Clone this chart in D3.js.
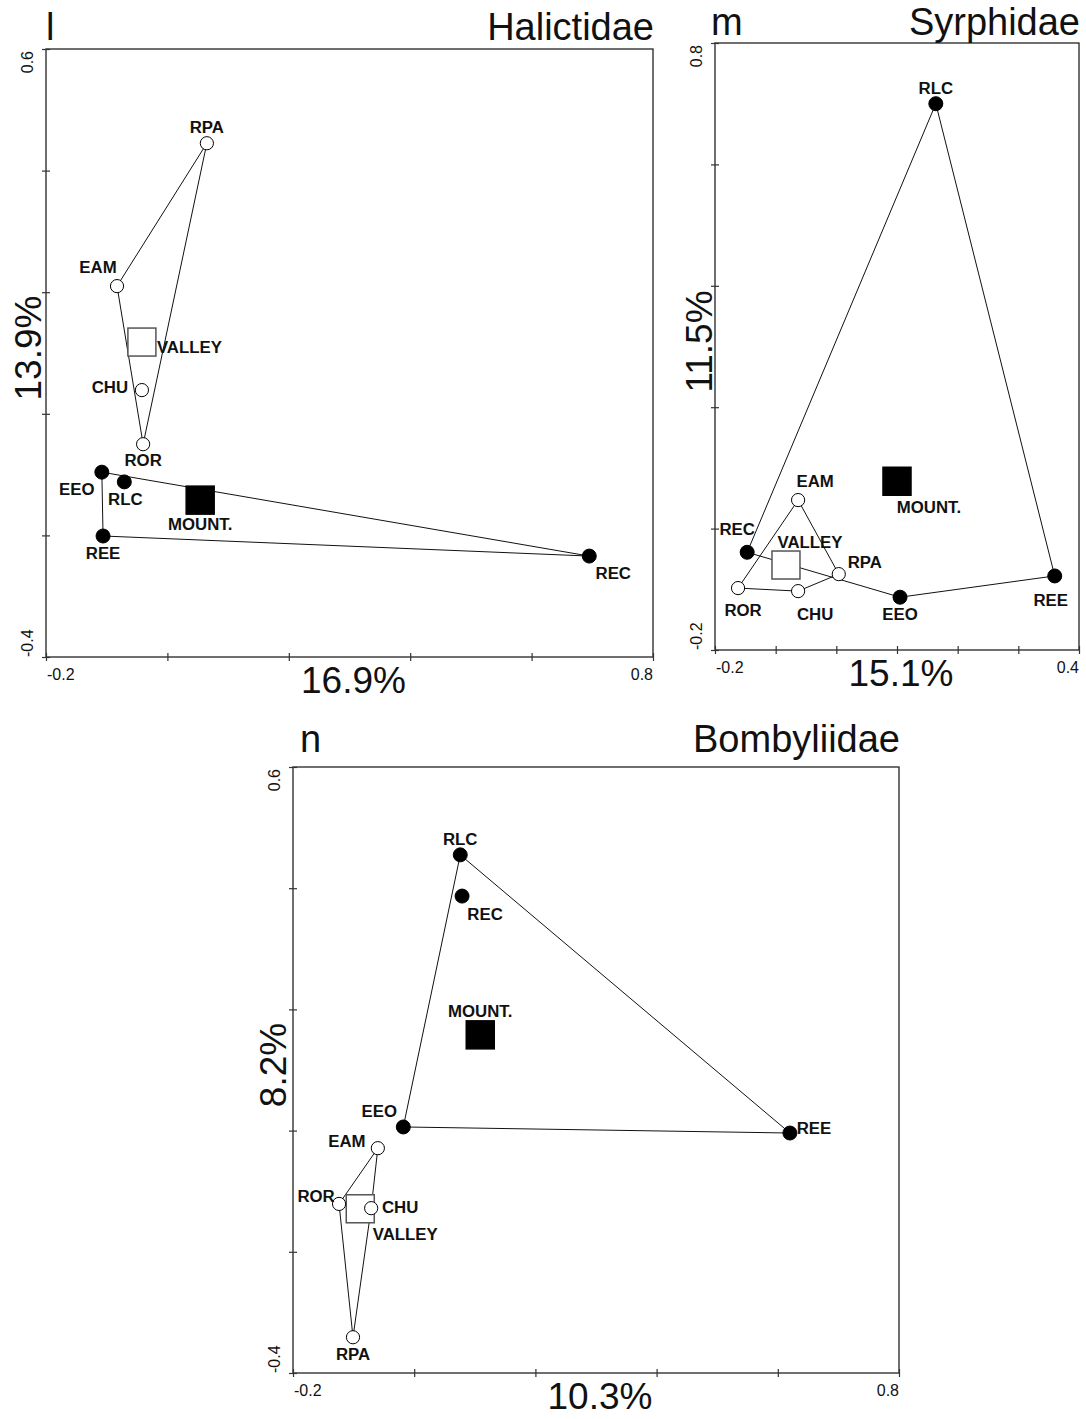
<!DOCTYPE html>
<html>
<head>
<meta charset="utf-8">
<script src="https://cdn.jsdelivr.net/npm/d3@7"></script>
<style>
  body { margin: 0; background: #fff; }
  svg { display: block; font-family: "Liberation Sans", Arial, sans-serif; }
  .frame { fill: none; stroke: #333; stroke-width: 1.4; }
  .tick line { stroke: #333; stroke-width: 1.2; }
  .hull { fill: none; stroke: #111; stroke-width: 1; }
  .site-label { font-weight: bold; font-size: 16.8px; fill: #111; }
  .tick-label { font-size: 16px; fill: #111; }
  .axis-title { font-size: 37px; fill: #111; }
  .panel-title { font-size: 38px; fill: #111; }
</style>
</head>
<body>
<div id="chart"></div>
<script>
// sites and their habitat group
const sites = ["EAM", "CHU", "ROR", "RPA", "EEO", "RLC", "REE", "REC"];
const habitat = ["valley", "valley", "valley", "valley", "mountain", "mountain", "mountain", "mountain"];
const groups = ["VALLEY", "MOUNT."];

// Halictidae (l)
const halX = [-0.083, -0.042, -0.040, 0.065, -0.108, -0.071, -0.106, 0.695];
const halY = [0.210, 0.039, -0.050, 0.445, -0.096, -0.112, -0.201, -0.234];
const halGroupX = [-0.042, 0.054];
const halGroupY = [0.118, -0.142];
const halValleyHull = ["EAM", "RPA", "ROR"];
const halMountHull = ["EEO", "REC", "REE"];

// Syrphidae (m)
const syrX = [-0.063, -0.063, -0.162, 0.004, 0.105, 0.164, 0.360, -0.147];
const syrY = [0.047, -0.103, -0.098, -0.075, -0.113, 0.700, -0.078, -0.039];
const syrGroupX = [-0.083, 0.100];
const syrGroupY = [-0.060, 0.078];
const syrValleyHull = ["ROR", "EAM", "RPA", "CHU"];
const syrMountHull = ["REC", "RLC", "REE", "EEO"];

// Bombyliidae (n)
const bomX = [-0.060, -0.071, -0.124, -0.101, -0.018, 0.076, 0.620, 0.079];
const bomY = [-0.029, -0.128, -0.121, -0.341, 0.006, 0.455, -0.004, 0.387];
const bomGroupX = [-0.089, 0.109];
const bomGroupY = [-0.129, 0.158];
const bomValleyHull = ["EAM", "ROR", "RPA", "CHU"];
const bomMountHull = ["RLC", "REE", "EEO"];

// axis domains and explained variance
const halXDomain = [-0.2, 0.8], halYDomain = [-0.4, 0.6];
const syrXDomain = [-0.2, 0.4], syrYDomain = [-0.2, 0.8];
const bomXDomain = [-0.2, 0.8], bomYDomain = [-0.4, 0.6];
const halAxes = ["16.9%", "13.9%"];
const syrAxes = ["15.1%", "11.5%"];
const bomAxes = ["10.3%", "8.2%"];

// label placement, pixels relative to the mark (layout only)
const halLabelPos = {
  EAM: [-19, -13], CHU: [-32, 3], ROR: [0, 22], RPA: [0, -10],
  EEO: [-25, 23], RLC: [1, 23], REE: [0, 23], REC: [24, 23],
  "VALLEY": [15, 11, "start"], "MOUNT.": [0, 30]
};
const syrLabelPos = {
  EAM: [17, -13], CHU: [17, 29], ROR: [5, 28], RPA: [26, -6],
  EEO: [0, 23], RLC: [0, -10], REE: [-4, 30], REC: [-10, -17],
  "VALLEY": [24, -17], "MOUNT.": [32, 32]
};
const bomLabelPos = {
  EAM: [-31, -1], CHU: [29, 5], ROR: [-23, -2], RPA: [0, 23],
  EEO: [-24, -10], RLC: [0, -10], REE: [24, 1], REC: [23, 24],
  "VALLEY": [45, 31], "MOUNT.": [0, -18]
};

const panels = [
  { letter: "l", family: "Halictidae", x: halX, y: halY, gx: halGroupX, gy: halGroupY,
    hulls: [halValleyHull, halMountHull], xd: halXDomain, yd: halYDomain, xStep: 0.2, yStep: 0.2,
    titles: halAxes, labels: halLabelPos,
    box: [46, 49, 653, 657], letterDx: 0, titleDy: -9, yTitleDx: -5 },
  { letter: "m", family: "Syrphidae", x: syrX, y: syrY, gx: syrGroupX, gy: syrGroupY,
    hulls: [syrValleyHull, syrMountHull], xd: syrXDomain, yd: syrYDomain, xStep: 0.1, yStep: 0.2,
    titles: syrAxes, labels: syrLabelPos,
    box: [715, 43, 1079, 650], letterDx: -4, titleDy: -8, yTitleDx: -3 },
  { letter: "n", family: "Bombyliidae", x: bomX, y: bomY, gx: bomGroupX, gy: bomGroupY,
    hulls: [bomValleyHull, bomMountHull], xd: bomXDomain, yd: bomYDomain, xStep: 0.2, yStep: 0.2,
    titles: bomAxes, labels: bomLabelPos,
    box: [293, 767, 899, 1373], letterDx: 7, titleDy: -15, yTitleDx: -7 }
];

const svg = d3.select("#chart").append("svg")
  .attr("width", 1086)
  .attr("height", 1419);

const fmt = v => (Math.round(v * 10) / 10).toFixed(1);

panels.forEach(drawPanel);

function drawPanel(p) {
  let [x0, y0, x1, y1] = p.box;
  let g = svg.append("g");

  let x = d3.scaleLinear().domain(p.xd).range([x0, x1]);
  let y = d3.scaleLinear().domain(p.yd).range([y1, y0]);

  let xTicks = d3.range(p.xd[0], p.xd[1] + p.xStep / 2, p.xStep);
  let yTicks = d3.range(p.yd[0], p.yd[1] + p.yStep / 2, p.yStep);

  // ticks crossing the left and bottom axes
  g.append("g")
    .attr("transform", "translate(0," + y1 + ")")
    .call(d3.axisBottom(x).tickValues(xTicks).tickSize(4).tickFormat(""))
    .call(a => a.select(".domain").remove())
    .selectAll(".tick line").attr("y1", -4);

  g.append("g")
    .attr("transform", "translate(" + x0 + ",0)")
    .call(d3.axisLeft(y).tickValues(yTicks).tickSize(4).tickFormat(""))
    .call(a => a.select(".domain").remove())
    .selectAll(".tick line").attr("x1", 4);

  g.append("rect")
    .attr("class", "frame")
    .attr("x", x0).attr("y", y0)
    .attr("width", x1 - x0).attr("height", y1 - y0);

  // end tick labels only
  g.append("text").attr("class", "tick-label")
    .attr("x", x(p.xd[0]) + 1).attr("y", y1 + 23)
    .text(fmt(p.xd[0]));
  g.append("text").attr("class", "tick-label")
    .attr("x", x(p.xd[1])).attr("y", y1 + 23)
    .attr("text-anchor", "end")
    .text(fmt(p.xd[1]));
  g.append("text").attr("class", "tick-label")
    .attr("transform", "translate(" + (x0 - 13) + "," + (y(p.yd[1]) + 2) + ") rotate(-90)")
    .attr("text-anchor", "end")
    .text(fmt(p.yd[1]));
  g.append("text").attr("class", "tick-label")
    .attr("transform", "translate(" + (x0 - 13) + "," + y(p.yd[0]) + ") rotate(-90)")
    .text(fmt(p.yd[0]));

  // axis titles
  g.append("text").attr("class", "axis-title")
    .attr("x", (x0 + x1) / 2 + 4).attr("y", y1 + 36)
    .attr("text-anchor", "middle")
    .text(p.titles[0]);
  g.append("text").attr("class", "axis-title")
    .attr("transform", "translate(" + (x0 + p.yTitleDx) + "," + ((y0 + y1) / 2 - 5) + ") rotate(-90)")
    .attr("text-anchor", "middle")
    .text(p.titles[1]);

  // panel letter and family name
  g.append("text").attr("class", "panel-title")
    .attr("x", x0 + p.letterDx).attr("y", y0 + p.titleDy)
    .text(p.letter);
  g.append("text").attr("class", "panel-title")
    .attr("x", x1 + 1).attr("y", y0 + p.titleDy)
    .attr("text-anchor", "end")
    .text(p.family);

  let pts = sites.map((s, i) => ({ name: s, hab: habitat[i], px: x(p.x[i]), py: y(p.y[i]) }));
  let byName = {};
  pts.forEach(d => byName[d.name] = d);

  // hull polygons
  g.selectAll(".hull")
    .data(p.hulls)
    .enter().append("polygon")
    .attr("class", "hull")
    .attr("points", h => h.map(n => byName[n].px + "," + byName[n].py).join(" "));

  // group centroids
  let cents = groups.map((gname, i) => ({ name: gname, px: x(p.gx[i]), py: y(p.gy[i]) }));
  g.selectAll(".centroid")
    .data(cents)
    .enter().append("rect")
    .attr("class", "centroid")
    .attr("x", d => d.px - 14).attr("y", d => d.py - 14)
    .attr("width", 28).attr("height", 28)
    .attr("fill", d => d.name === "VALLEY" ? "#fff" : "#000")
    .attr("stroke", d => d.name === "VALLEY" ? "#555" : "#000")
    .attr("stroke-width", 1.5);

  // sites
  g.selectAll(".site")
    .data(pts)
    .enter().append("circle")
    .attr("class", "site")
    .attr("cx", d => d.px).attr("cy", d => d.py)
    .attr("r", d => d.hab === "valley" ? 6.6 : 7)
    .attr("fill", d => d.hab === "valley" ? "#fff" : "#000")
    .attr("stroke", "#000")
    .attr("stroke-width", 1);

  // labels
  g.selectAll(".site-label")
    .data(pts.concat(cents))
    .enter().append("text")
    .attr("class", "site-label")
    .attr("x", d => d.px + p.labels[d.name][0])
    .attr("y", d => d.py + p.labels[d.name][1])
    .attr("text-anchor", d => p.labels[d.name][2] || "middle")
    .text(d => d.name);
}
</script>
</body>
</html>
